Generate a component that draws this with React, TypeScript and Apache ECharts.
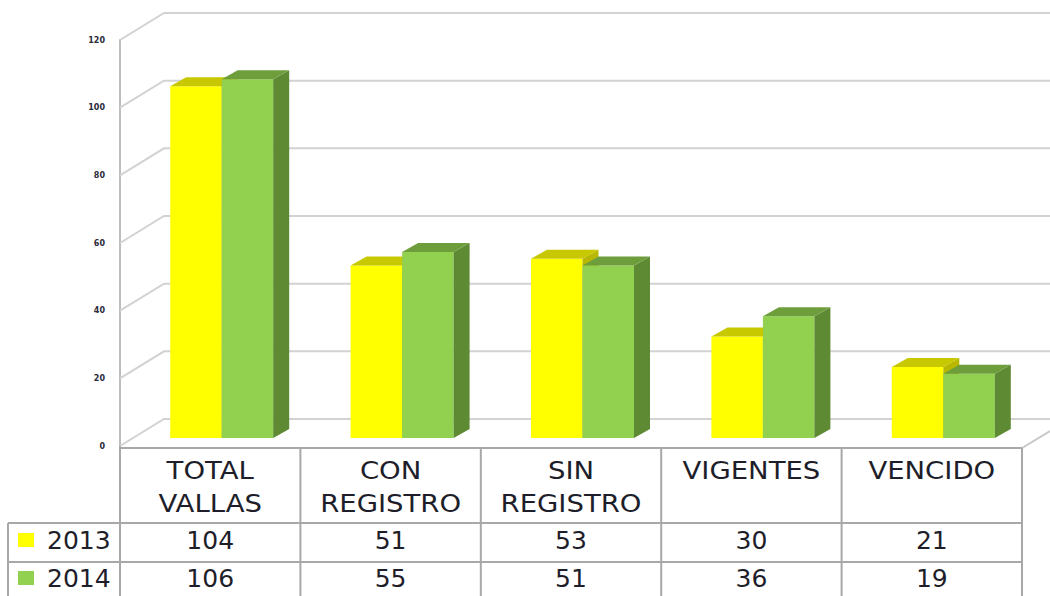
import React, { useEffect, useRef } from "react";
import * as echarts from "echarts";

const categories = ["TOTAL\nVALLAS", "CON\nREGISTRO", "SIN\nREGISTRO", "VIGENTES", "VENCIDO"];
const seriesNames = ["2013", "2014"];
const values2013 = [104, 51, 53, 30, 21];
const values2014 = [106, 55, 51, 36, 19];
const yTicks = [0, 20, 40, 60, 80, 100, 120];

const FONT = "DejaVu Sans";
const GRID_COLOR = "#d2d2d2";
const TABLE_COLOR = "#a8a8a8";
const TEXT_COLOR = "#1e1e2a";

const palettes = [
  { front: "#FFFF00", side: "#B8B800", top: "#C8C800" },
  { front: "#92D050", side: "#5E8A34", top: "#6E9E3C" },
];

const DEPTH_DX = 16;
const DEPTH_DY = -9;
const PLANE_DX = 11.5;
const PLANE_DY = -8;
const WALL_DX = 44;
const WALL_DY = -27;
const BAR_W = 51.5;

function barRender(seriesIdx: number) {
  return (params: any, api: any) => {
    const i = api.value(0);
    const v = api.value(1);
    const base = api.coord([i, 0]);
    const top = api.coord([i, v]);
    const cx = base[0] + PLANE_DX;
    const x0 = seriesIdx === 0 ? cx - BAR_W : cx;
    const x1 = x0 + BAR_W;
    const yb = base[1] + PLANE_DY;
    const yt = top[1] + PLANE_DY;
    const p = palettes[seriesIdx];
    return {
      type: "group",
      children: [
        { type: "rect", shape: { x: x0, y: yt, width: BAR_W, height: yb - yt }, style: { fill: p.front } },
        {
          type: "polygon",
          shape: { points: [[x1, yt], [x1 + DEPTH_DX, yt + DEPTH_DY], [x1 + DEPTH_DX, yb + DEPTH_DY], [x1, yb]] },
          style: { fill: p.side },
        },
        {
          type: "polygon",
          shape: { points: [[x0, yt], [x1, yt], [x1 + DEPTH_DX, yt + DEPTH_DY], [x0 + DEPTH_DX, yt + DEPTH_DY]] },
          style: { fill: p.top },
        },
      ],
    };
  };
}

function wallRender(params: any, api: any) {
  const v = api.value(0);
  const cs = params.coordSys;
  const y = api.coord([0, v])[1];
  const right = cs.x + cs.width;
  const children: any[] = [
    {
      type: "polyline",
      shape: { points: [[cs.x, y], [cs.x + WALL_DX, y + WALL_DY], [right + 60, y + WALL_DY]] },
      style: { stroke: GRID_COLOR, lineWidth: 2, fill: null },
    },
  ];
  if (v === 0) {
    children.push({
      type: "polyline",
      shape: { points: [[cs.x, y + 2], [right, y + 2], [right + 28, y + 2 - 17]] },
      style: { stroke: "#c8c8c8", lineWidth: 2, fill: null },
    });
  }
  return { type: "group", children };
}

function tableRender(params: any, api: any) {
  const i = api.value(0);
  const cs = params.coordSys;
  const band = api.size([1, 0])[0];
  const cx = api.coord([i, 0])[0];
  const xl = cx - band / 2;
  const xr = cx + band / 2;
  const yTop = cs.y + cs.height + 2; // 448
  const yRow1 = yTop + 75; // 523
  const yRow2 = yRow1 + 39; // 562
  const yEnd = yRow2 + 60;
  const line = (pts: number[][]) => ({
    type: "polyline",
    shape: { points: pts },
    style: { stroke: TABLE_COLOR, lineWidth: 2, fill: null },
  });
  const children: any[] = [
    line([[xr, yTop], [xr, yEnd]]),
    {
      type: "text",
      x: cx,
      y: yTop + 6,
      scaleX: 1.1,
      style: {
        x: 0,
        y: 0,
        text: categories[i],
        align: "center",
        verticalAlign: "top",
        font: `25px "${FONT}"`,
        lineHeight: 33,
        fill: TEXT_COLOR,
      },
    },
    {
      type: "text",
      x: cx,
      y: yRow1 + 17,
      style: { text: String(values2013[i]), align: "center", verticalAlign: "middle", font: `25px "${FONT}"`, fill: TEXT_COLOR },
    },
    {
      type: "text",
      x: cx,
      y: yRow2 + 16,
      style: { text: String(values2014[i]), align: "center", verticalAlign: "middle", font: `25px "${FONT}"`, fill: TEXT_COLOR },
    },
  ];
  if (i === 0) {
    const legL = 8;
    children.push(line([[xl, yTop - 2], [xl, yEnd]]));
    children.push(line([[xl, yTop], [cs.x + cs.width, yTop]]));
    children.push(line([[legL, yRow1], [cs.x + cs.width, yRow1]]));
    children.push(line([[legL, yRow2], [cs.x + cs.width, yRow2]]));
    children.push(line([[legL, yRow1], [legL, yEnd]]));
    seriesNames.forEach((name, k) => {
      const yc = k === 0 ? yRow1 + 17 : yRow2 + 16;
      children.push({ type: "rect", shape: { x: 18, y: yc - 7, width: 16, height: 14 }, style: { fill: palettes[k].front } });
      children.push({
        type: "text",
        x: 47,
        y: yc,
        style: { text: name, align: "left", verticalAlign: "middle", font: `25px "${FONT}"`, fill: TEXT_COLOR },
      });
    });
  }
  return { type: "group", children };
}

export default function App() {
  const ref = useRef<HTMLDivElement>(null);
  useEffect(() => {
    if (!ref.current) return;
    const chart = echarts.init(ref.current, undefined, { renderer: "svg" });
    chart.setOption({
      animation: false,
      backgroundColor: "#ffffff",
      grid: { left: 120, right: 28, top: 40, bottom: 150 },
      xAxis: {
        type: "category",
        data: categories,
        axisLine: { show: false },
        axisTick: { show: false },
        axisLabel: { show: false },
        splitLine: { show: false },
      },
      yAxis: {
        type: "value",
        min: 0,
        max: 120,
        interval: 20,
        axisLine: { show: true, lineStyle: { color: "#bdbdbd", width: 2 } },
        axisTick: { show: false },
        splitLine: { show: false },
        axisLabel: { fontSize: 8, fontWeight: "bold", color: "#2a2a3a", margin: 15, fontFamily: FONT },
      },
      series: [
        {
          type: "custom",
          name: "walls",
          renderItem: wallRender,
          data: yTicks.map((v) => [v]),
          encode: { y: 0 },
          clip: false,
          z: 1,
          silent: true,
        },
        {
          type: "custom",
          name: seriesNames[0],
          renderItem: barRender(0),
          data: values2013.map((v, i) => [i, v]),
          encode: { x: 0, y: 1 },
          clip: false,
          z: 3,
        },
        {
          type: "custom",
          name: seriesNames[1],
          renderItem: barRender(1),
          data: values2014.map((v, i) => [i, v]),
          encode: { x: 0, y: 1 },
          clip: false,
          z: 4,
        },
        {
          type: "custom",
          name: "table",
          renderItem: tableRender,
          data: categories.map((_, i) => [i]),
          encode: { x: 0 },
          clip: false,
          z: 5,
          silent: true,
        },
      ],
    });
    return () => chart.dispose();
  }, []);
  return <div ref={ref} style={{ position: "fixed", left: 0, top: 0, width: 1050, height: 596 }} />;
}
